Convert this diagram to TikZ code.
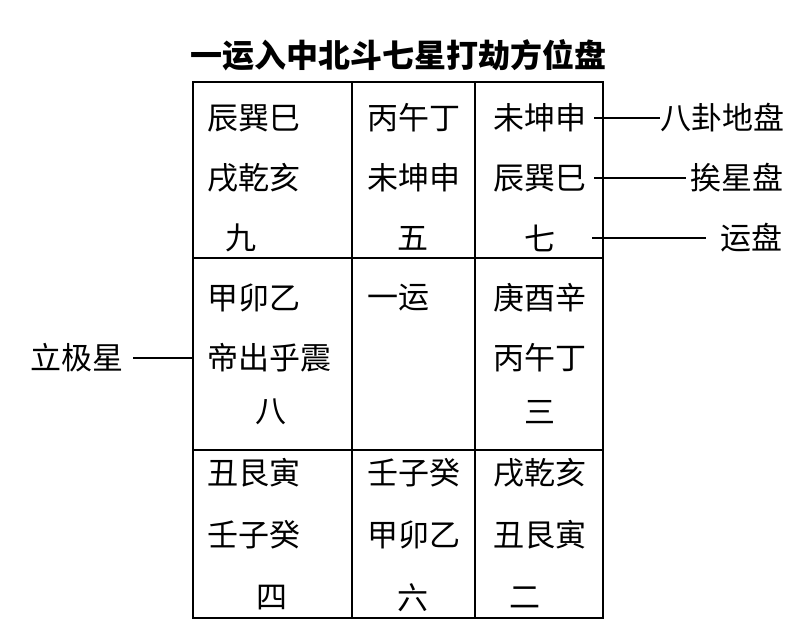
\documentclass[tikz,border=0pt]{standalone}
\usepackage{fontspec}
\setmainfont{Noto Sans CJK SC}
\begin{document}
\begin{tikzpicture}[x=1pt,y=-1pt,
  t/.style={inner sep=0pt,anchor=west,font=\fontsize{31}{32}\selectfont},
  c/.style={inner sep=0pt,font=\fontsize{31}{32}\selectfont},
  ln/.style={line width=1.3pt}]
\useasboundingbox[fill=white] (0,0) rectangle (800,643);
\node[inner sep=0pt,font=\bfseries\fontsize{32}{34}\selectfont] (title) at (398,55) {一运入中北斗七星打劫方位盘};
\draw[ln] (193,82) rectangle (603,618);
\draw[ln] (352,82) -- (352,618);
\draw[ln] (475,82) -- (475,618);
\draw[ln] (193,258) -- (603,258);
\draw[ln] (193,450) -- (603,450);
% row 1
\node[t] (a1) at (207,118) {辰巽巳};
\node[t] (a2) at (207,178) {戌乾亥};
\node[c] (a3) at (241,238) {九};
\node[t] (b1) at (367,118) {丙午丁};
\node[t] (b2) at (367,178) {未坤申};
\node[c] (b3) at (413,238) {五};
\node[t] (c1) at (493,118) {未坤申};
\node[t] (c2) at (493,178) {辰巽巳};
\node[c] (c3) at (540,238) {七};
% row 2
\node[t] (d1) at (207,298) {甲卯乙};
\node[t] (d2) at (207,358) {帝出乎震};
\node[c] (d3) at (271,412) {八};
\node[t] (e1) at (367,298) {一运};
\node[t] (f1) at (493,298) {庚酉辛};
\node[t] (f2) at (493,358) {丙午丁};
\node[c] (f3) at (540,412) {三};
% row 3
\node[t] (g1) at (207,473) {丑艮寅};
\node[t] (g2) at (207,535) {壬子癸};
\node[c] (g3) at (272,598) {四};
\node[t] (h1) at (367,473) {壬子癸};
\node[t] (h2) at (367,535) {甲卯乙};
\node[c] (h3) at (413,598) {六};
\node[t] (i1) at (493,473) {戌乾亥};
\node[t] (i2) at (493,535) {丑艮寅};
\node[c] (i3) at (525,598) {二};
% side labels
\node[t] (L1) at (660,118) {八卦地盘};
\node[t] (L2) at (690,178) {挨星盘};
\node[t] (L3) at (720,238) {运盘};
\node[t] (L4) at (30,358) {立极星};
\draw[ln] (594,118) -- (L1.west);
\draw[ln] (594,178) -- ([xshift=-4pt]L2.west);
\draw[ln] (592,238) -- ([xshift=-14pt]L3.west);
\draw[ln] ([xshift=10pt]L4.east) -- (193,358);
\end{tikzpicture}
\end{document}
